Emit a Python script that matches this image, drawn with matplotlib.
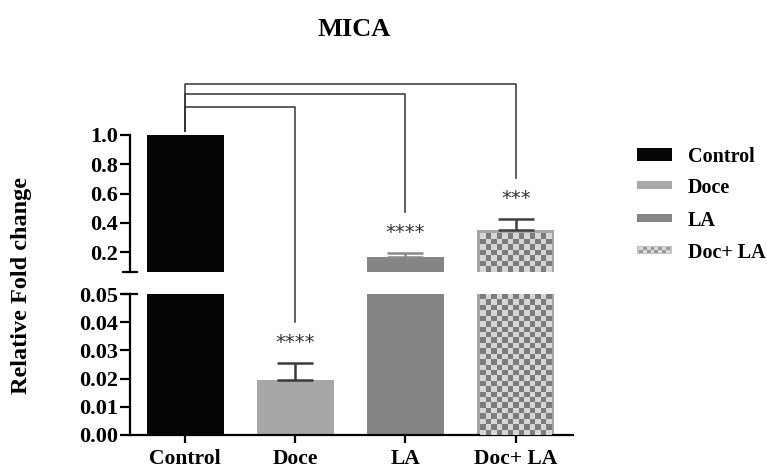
import numpy as np
import matplotlib
matplotlib.use("Agg")
import matplotlib.pyplot as plt
from matplotlib.colors import ListedColormap

# data
groups = ["Control", "Doce", "LA", "Doc+ LA"]
means = [1.0, 0.0195, 0.165, 0.35]
errs = [0.0, 0.006, 0.028, 0.076]
stars = ["", "****", "****", "***"]
top_ticks = [0.2, 0.4, 0.6, 0.8, 1.0]
bot_ticks = [0.0, 0.01, 0.02, 0.03, 0.04, 0.05]

bar_colors = ["#050505", "#a7a7a9", "#858585", "#a6a6a6"]
err_colors = ["#050505", "#3a3a3a", "#8a8a8a", "#404040"]
checker_cmap = ListedColormap(["#d6d6d6", "#7c7c7c"])

plt.rcParams["font.family"] = ["Liberation Serif", "DejaVu Serif"]
plt.rcParams["font.weight"] = "bold"

W, H = 767, 470
fig = plt.figure(figsize=(W / 100, H / 100), dpi=100)


def px_box(x0, y0, x1, y1):
    # pixel box (origin top-left) -> figure fraction rect
    return [x0 / W, 1 - y1 / H, (x1 - x0) / W, (y1 - y0) / H]


ax_top = fig.add_axes(px_box(130, 135, 573, 272))
ax_bot = fig.add_axes(px_box(130, 294, 573, 435))
for ax in (ax_top, ax_bot):
    ax.patch.set_visible(False)

x = np.arange(len(groups))
bw = 0.7
xlim = (-0.5, 3.52)
ax_top.set_xlim(xlim)
ax_bot.set_xlim(xlim)
ax_top.set_ylim(0.065, 1.0)
ax_bot.set_ylim(0, 0.05)


def add_checker(ax, xc, top, cell=5.5, pad=3):
    lo, hi = ax.get_ylim()
    (px0, py0) = ax.transData.transform((xc - bw / 2, lo))
    (px1, py1) = ax.transData.transform((xc + bw / 2, min(top, hi)))
    px0 += pad
    px1 -= pad
    if top < hi:
        py1 -= pad
    ncol = max(1, int(round((px1 - px0) / cell)))
    nrow = max(1, int(round((py1 - py0) / cell)))
    grid = np.add.outer(np.arange(nrow), np.arange(ncol)) % 2
    inv = ax.transData.inverted()
    dx0, dy0 = inv.transform((px0, py0))
    dx1, dy1 = inv.transform((px1, py1))
    ax.imshow(grid, cmap=checker_cmap, extent=(dx0, dx1, dy0, dy1), origin="lower",
              interpolation="nearest", aspect="auto", zorder=3)


for ax in (ax_top, ax_bot):
    ax.bar(x, means, width=bw, color=bar_colors, zorder=2)
    add_checker(ax, x[3], means[3])
    for i in range(1, len(groups)):
        ax.errorbar(x[i], means[i], yerr=[[0], [errs[i]]], fmt="none",
                    ecolor=err_colors[i], elinewidth=1.8, capsize=13,
                    capthick=1.8, zorder=4)
    for s in ("top", "right"):
        ax.spines[s].set_visible(False)
    ax.spines["left"].set_linewidth(1.6)
    ax.tick_params(axis="y", length=7, width=1.6, labelsize=16, pad=1.5)

ax_top.set_xlim(xlim)
ax_bot.set_xlim(xlim)
ax_top.set_ylim(0.065, 1.0)
ax_bot.set_ylim(0, 0.05)

ax_top.spines["bottom"].set_visible(False)
ax_top.set_xticks([])
ax_top.set_yticks(top_ticks, [f"{t:.1f}" for t in top_ticks])
ax_bot.set_yticks(bot_ticks, [f"{t:.2f}" for t in bot_ticks])
ax_bot.set_xticks(x, groups)
ax_bot.spines["bottom"].set_linewidth(1.6)
ax_bot.tick_params(axis="x", length=6, width=1.6, labelsize=15.5, pad=4)

# axis break caps
cap = 7 / 443
ax_top.plot([-cap, cap], [0, 0], transform=ax_top.transAxes, color="black",
            lw=1.6, clip_on=False)
ax_bot.plot([-cap, cap], [1, 1], transform=ax_bot.transAxes, color="black",
            lw=1.6, clip_on=False)

# significance stars and brackets
star_axes = [None, ax_bot, ax_top, ax_top]
star_off = 21  # px above cap
line_gap = 20  # px above star centre
levels = [None, 1.19, 1.28, 1.35]
inv_top = ax_top.transData.inverted()
for i in range(1, len(groups)):
    ax = star_axes[i]
    cap_y = ax.transData.transform((x[i], means[i] + errs[i]))[1]
    star_y = ax.transData.inverted().transform((0, cap_y + star_off))[1]
    ax.text(x[i], star_y, stars[i], ha="center", va="center", fontsize=14,
            family="DejaVu Sans", fontweight="normal", color="#333333")
    end_y = inv_top.transform((0, cap_y + star_off + line_gap))[1]
    ax_top.plot([x[0], x[0], x[i], x[i]], [1.03, levels[i], levels[i], end_y],
                color="#333333", lw=1.1, clip_on=False, zorder=5)

# title and y label
fig.text(354 / W, 1 - 30 / H, "MICA", ha="center", va="center", fontsize=19)
fig.text(22 / W, 1 - 285 / H, "Relative Fold change", ha="center", va="center",
         rotation=90, fontsize=17.5)

# legend
leg_y = [154, 185, 218, 250]
leg_h = [13, 8, 8, 8]
for i, g in enumerate(groups):
    lax = fig.add_axes(px_box(637, leg_y[i] - leg_h[i] / 2, 672, leg_y[i] + leg_h[i] / 2))
    lax.set_axis_off()
    lax.set_xlim(0, 1)
    lax.set_ylim(0, 1)
    if i == 3:
        lax.add_patch(plt.Rectangle((0, 0), 1, 1, color="#c4c4c4", zorder=1))
        grid = np.add.outer(np.arange(2), np.arange(8)) % 2
        lax.imshow(grid, cmap=ListedColormap(["#dadada", "#9a9a9a"]),
                   extent=(0.06, 0.94, 0.15, 0.85), interpolation="nearest",
                   aspect="auto", zorder=2)
        lax.set_xlim(0, 1)
        lax.set_ylim(0, 1)
    else:
        lax.add_patch(plt.Rectangle((0, 0), 1, 1, color=bar_colors[i]))
    fig.text(688 / W, 1 - (leg_y[i] + 3) / H, g, ha="left", va="center", fontsize=14.5)

fig.savefig("out.png", dpi=100)
